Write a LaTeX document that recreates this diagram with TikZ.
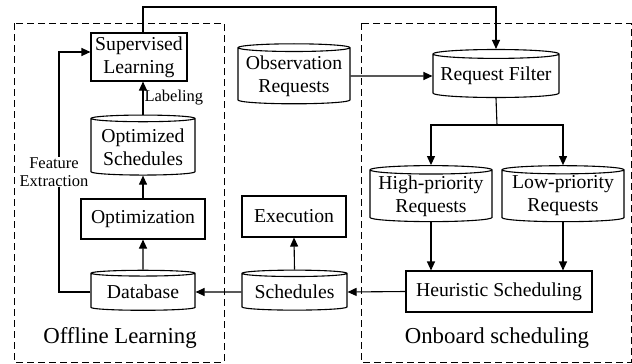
\documentclass[tikz,border=0pt]{standalone}
\usepackage{fontspec}
\setmainfont{Liberation Serif}
\usetikzlibrary{arrows.meta}
\usetikzlibrary{shapes.geometric}

\begin{document}
\begin{tikzpicture}[x=1pt,y=-1pt,line width=1.1pt,
  font=\fontsize{19.7}{23}\selectfont,
  box/.style={draw,rectangle,inner sep=0pt,align=center},
  store/.style={draw,cylinder,shape border rotate=90,aspect=0.08,inner sep=0pt,align=center},
  arr/.style={-{Triangle[length=9pt,width=8pt]}},
  region/.style={dash pattern=on 7pt off 4pt,line width=1pt},
  tag/.style={font=\fontsize{16.5}{18}\selectfont,inner sep=1pt,align=center}]
\useasboundingbox (0,0) rectangle (632,364);

\draw[region] (14,23) rectangle (224,362);
\draw[region] (361,23) rectangle (631,362);

\node[box,minimum width=96pt,minimum height=48pt] (sl) at (139,57) {Supervised\\Learning};
\node[store,minimum width=104pt,minimum height=60pt] (os) at (143,147) {Optimized\\Schedules};
\node[box,minimum width=124pt,minimum height=40pt] (opt) at (143,219) {Optimization};
\node[store,minimum width=104pt,minimum height=40pt] (db) at (143,292) {Database};
\node[store,minimum width=112pt,minimum height=60pt] (obs) at (294,76) {Observation\\Requests};
\node[store,minimum width=126pt,minimum height=48pt] (rf) at (496,76) {Request Filter};
\node[store,minimum width=122pt,minimum height=56pt] (hp) at (431,196) {High-priority\\Requests};
\node[store,minimum width=122pt,minimum height=56pt] (lp) at (563,196) {Low-priority\\Requests};
\node[box,minimum width=186pt,minimum height=41pt] (hs) at (499,291.5) {Heuristic Scheduling};
\node[store,minimum width=105pt,minimum height=40pt] (sch) at (294.5,292) {Schedules};
\node[box,minimum width=104pt,minimum height=41pt] (exec) at (294,216.5) {Execution};

\node[font=\fontsize{22.8}{26}\selectfont] (offl) at (120,338) {Offline Learning};
\node[font=\fontsize{22.8}{26}\selectfont] (onbl) at (497,338) {Onboard scheduling};

\coordinate (top) at (143,7);
\coordinate (fe) at (59,52);
\coordinate (split) at (497,125);

\draw[arr] (top |- sl.north) -- (top) -| (rf.north);
\draw[arr] (os.north) -- (os.north |- sl.south) node[tag,pos=0.5,anchor=west] (lab) {Labeling};
\draw[arr] (opt.north) -- (os.south);
\draw[arr] (db.north) -- (opt.south);
\draw[arr] (db.west) -| (fe) -- (fe -| sl.west);
\node[tag,fill=white] (fex) at (54,172) {Feature\\Extraction};
\draw[arr] (obs.east) -- (rf.west);
\draw (rf.south) -- (split);
\draw[arr] (split) -| (hp.north);
\draw[arr] (split) -| (lp.north);
\draw[arr] (hp.south) -- (hp.south |- hs.north);
\draw[arr] (lp.south) -- (lp.south |- hs.north);
\draw[arr] (hs.west) -- (sch.east);
\draw[arr] (sch.west) -- (db.east);
\draw[arr] (sch.north) -- (exec.south);
\end{tikzpicture}
\end{document}
